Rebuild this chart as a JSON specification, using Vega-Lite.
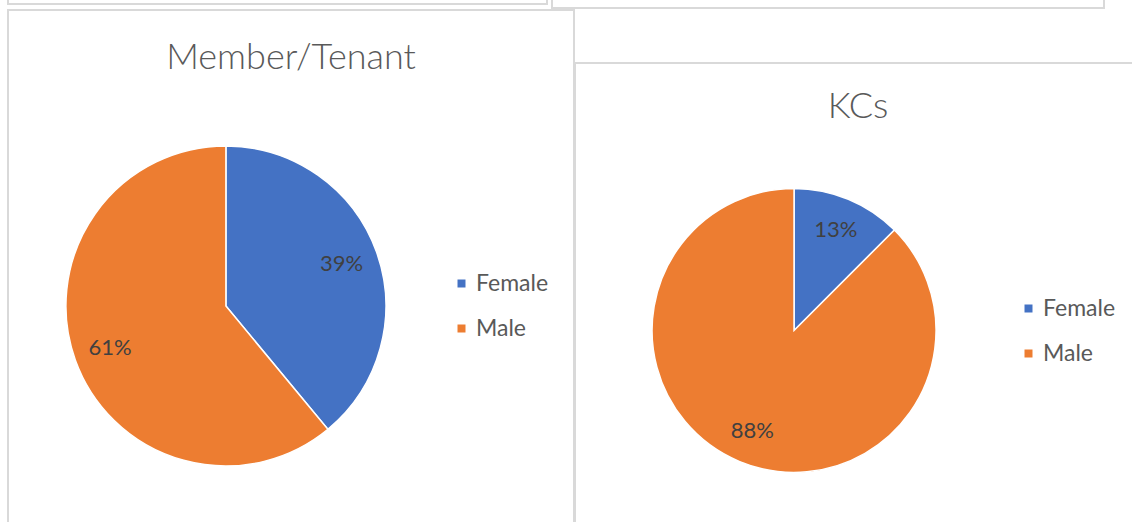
{
  "$schema": "https://vega.github.io/schema/vega-lite/v6.json",
  "padding": {"left": 7, "top": -21, "right": 0, "bottom": 0},
  "background": "white",
  "config": {
    "view": {"stroke": "#d9d9d9", "strokeWidth": 2},
    "font": "Lato"
  },
  "datasets": {
    "member": [
      {"chart": "Member/Tenant", "gender": "Female", "share": 39, "label": "39%"},
      {"chart": "Member/Tenant", "gender": "Male", "share": 61, "label": "61%"}
    ],
    "kcs": [
      {"chart": "KCs", "gender": "Female", "share": 12.5, "label": "13%"},
      {"chart": "KCs", "gender": "Male", "share": 87.5, "label": "88%"}
    ]
  },
  "spacing": 0,
  "resolve": {"scale": {"color": "independent", "x": "independent", "y": "independent"}, "legend": {"color": "independent"}},
  "vconcat": [
    {
      "spacing": 3,
      "resolve": {"scale": {"x": "independent", "y": "independent"}},
      "hconcat": [
        {"width": 539, "height": 24, "data": {"name": "member"}, "mark": {"type": "point", "opacity": 0}, "encoding": {"x": {"field": "chart", "type": "nominal", "axis": null}, "y": {"field": "chart", "type": "nominal", "axis": null}}},
        {"width": 552, "height": 28, "data": {"name": "kcs"}, "mark": {"type": "point", "opacity": 0}, "encoding": {"x": {"field": "chart", "type": "nominal", "axis": null}, "y": {"field": "chart", "type": "nominal", "axis": null}}}
      ]
    },
    {
      "spacing": -2,
      "resolve": {"scale": {"color": "independent", "x": "independent", "y": "independent"}, "legend": {"color": "independent"}},
      "hconcat": [
        {
          "width": 566,
          "height": 530,
          "data": {"name": "member"},
          "title": {"text": "Member/Tenant", "anchor": "middle", "frame": "group", "offset": -95, "baseline": "alphabetic", "fontSize": 36, "fontWeight": 300, "color": "#595959", "font": "Lato"},
          "encoding": {
            "x": {"field": "chart", "type": "nominal", "axis": null, "scale": {"type": "point", "align": 0.385}},
            "y": {"field": "chart", "type": "nominal", "axis": null, "scale": {"type": "point", "align": 0.5585}},
            "theta": {"field": "share", "type": "quantitative", "stack": true},
            "color": {
              "field": "gender", "type": "nominal",
              "scale": {"domain": ["Female", "Male"], "range": ["#4472C4", "#ED7D31"]},
              "legend": {"orient": "none", "legendX": 442, "legendY": 262, "title": null, "symbolType": "square", "symbolSize": 64, "symbolStrokeWidth": 0, "labelFontSize": 23, "labelColor": "#595959", "labelFont": "Lato", "rowPadding": 21, "labelOffset": 3}
            }
          },
          "layer": [
            {"mark": {"type": "arc", "outerRadius": 160, "stroke": "white", "strokeWidth": 1.5}},
            {"mark": {"type": "text", "radius": 123, "fontSize": 22, "font": "Lato"}, "encoding": {"text": {"field": "label"}, "color": {"value": "#404040"}, "detail": {"field": "gender"}}}
          ]
        },
        {
          "spacing": 0,
          "vconcat": [
            {"width": 566, "height": 52, "view": {"stroke": null}, "data": {"name": "kcs"}, "mark": {"type": "point", "opacity": 0}, "encoding": {}},
            {
              "width": 566,
              "height": 470,
              "data": {"name": "kcs"},
              "title": {"text": "KCs", "anchor": "middle", "frame": "group", "offset": -91, "baseline": "alphabetic", "fontSize": 36, "fontWeight": 300, "color": "#595959", "font": "Lato"},
              "encoding": {
                "x": {"field": "chart", "type": "nominal", "axis": null, "scale": {"type": "point", "align": 0.387}},
                "y": {"field": "chart", "type": "nominal", "axis": null, "scale": {"type": "point", "align": 0.569}},
                "theta": {"field": "share", "type": "quantitative", "stack": true},
                "color": {
                  "field": "gender", "type": "nominal",
                  "scale": {"domain": ["Female", "Male"], "range": ["#4472C4", "#ED7D31"]},
                  "legend": {"orient": "none", "legendX": 442, "legendY": 287, "title": null, "symbolType": "square", "symbolSize": 64, "symbolStrokeWidth": 0, "labelFontSize": 23, "labelColor": "#595959", "labelFont": "Lato", "rowPadding": 21, "labelOffset": 3}
                }
              },
              "layer": [
                {"mark": {"type": "arc", "outerRadius": 142, "stroke": "white", "strokeWidth": 1.5}},
                {"mark": {"type": "text", "radius": 109, "fontSize": 22, "font": "Lato"}, "encoding": {"text": {"field": "label"}, "color": {"value": "#404040"}, "detail": {"field": "gender"}}}
              ]
            }
          ]
        }
      ]
    }
  ]
}
